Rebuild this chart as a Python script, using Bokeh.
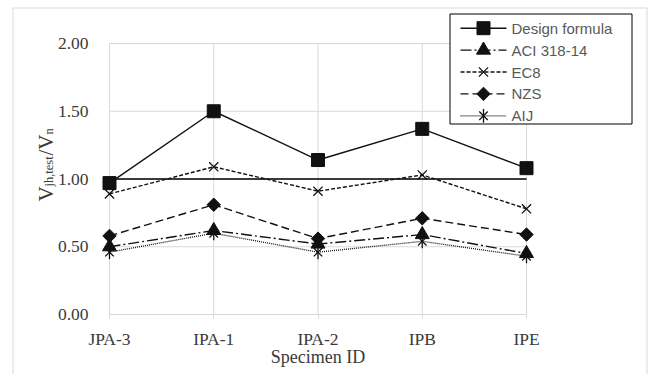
import math
from bokeh.plotting import figure
from bokeh.models import Range1d, FixedTicker, Label, NumeralTickFormatter
from bokeh.core.properties import value
from bokeh.embed import file_html
from bokeh.resources import INLINE

# ---------------- data ----------------
categories = ["JPA-3", "IPA-1", "IPA-2", "IPB", "IPE"]
design = [0.97, 1.50, 1.14, 1.37, 1.08]
aci = [0.50, 0.62, 0.52, 0.59, 0.45]
ec8 = [0.89, 1.09, 0.91, 1.03, 0.78]
nzs = [0.58, 0.81, 0.56, 0.71, 0.59]
aij = [0.46, 0.60, 0.46, 0.54, 0.43]
y_ticks = [0.0, 0.5, 1.0, 1.5, 2.0]
reference_level = 1.0
series_names = ["Design formula", "ACI 318-14", "EC8", "NZS", "AIJ"]

# ---------------- layout (pixels) ----------------
W, H = 654, 374
PX_LEFT, PX_RIGHT = 109, 526      # first / last category
PY_BOTTOM, PY_TOP = 314, 43       # y_ticks[0] / y_ticks[-1]
n = len(categories)
x = list(range(n))
sx = (PX_RIGHT - PX_LEFT) / (n - 1)
sy = (PY_BOTTOM - PY_TOP) / (y_ticks[-1] - y_ticks[0])


def dx(px):
    return (px - PX_LEFT) / sx


def dy(py):
    return y_ticks[0] + (PY_BOTTOM - py) / sy


GRID = "#d9d9d9"
TXT = "#3a3a3a"
K = "#111111"

p = figure(frame_width=W, frame_height=H, output_backend="svg", toolbar_location=None,
           x_range=Range1d(dx(0), dx(W)), y_range=Range1d(dy(H), dy(0)),
           min_border=0)
p.outline_line_color = None
p.background_fill_color = "white"
p.border_fill_color = "white"
p.xgrid.visible = False
p.ygrid.visible = False

# chart-area border
p.quad(left=dx(12.5), right=dx(646.5), top=dy(7.5), bottom=dy(H + 10),
       fill_color=None, line_color=GRID, line_width=1, level="underlay")

# gridlines drawn over the plot area only
p.segment(x0=x[0], x1=x[-1], y0=y_ticks, y1=y_ticks, line_color=GRID, line_width=1, level="underlay")
p.segment(x0=x, x1=x, y0=y_ticks[0], y1=y_ticks[-1], line_color=GRID, line_width=1, level="underlay")

# axes fixed at the plot-area edges
p.xaxis.fixed_location = y_ticks[0]
p.yaxis.fixed_location = x[0]
p.xaxis.bounds = (x[0], x[-1])
p.yaxis.bounds = (y_ticks[0], y_ticks[-1])
p.xaxis.ticker = FixedTicker(ticks=x)
p.xaxis.major_label_overrides = {i: c for i, c in enumerate(categories)}
p.yaxis.ticker = FixedTicker(ticks=y_ticks)
p.yaxis.formatter = NumeralTickFormatter(format="0.00")
for ax in (p.xaxis, p.yaxis):
    ax.major_label_text_font = "Liberation Serif"
    ax.major_label_text_font_size = "17.5px"
    ax.major_label_text_color = TXT
    ax.minor_tick_line_color = None
p.xaxis.axis_line_color = GRID
p.xaxis.major_tick_line_color = GRID
p.xaxis.major_tick_out = 4
p.xaxis.major_tick_in = 0
p.xaxis.major_label_standoff = 10
p.xaxis.axis_label = "Specimen ID"
p.xaxis.axis_label_text_font = "Liberation Serif"
p.xaxis.axis_label_text_font_size = "18px"
p.xaxis.axis_label_text_font_style = "normal"
p.xaxis.axis_label_text_color = TXT
p.xaxis.axis_label_standoff = -5
p.yaxis.axis_line_color = None
p.yaxis.major_tick_line_color = None
p.yaxis.major_label_standoff = 15

# reference line at 1.0 across the plot area
p.segment(x0=x[0], x1=x[-1], y0=reference_level, y1=reference_level, line_color="black", line_width=1.4)

# ---------------- series ----------------
series = [
    dict(name=series_names[0], values=design, dash="solid", width=1.4,
         markers=[("square", 13, 0.0, True)]),
    dict(name=series_names[1], values=aci, dash="11 3 2 3", width=1.4,
         markers=[("triangle", 14, 0.0, True)]),
    dict(name=series_names[2], values=ec8, dash="4 2", width=1.4,
         markers=[("x", 13, 0.0, False)]),
    dict(name=series_names[3], values=nzs, dash="8 4", width=1.4,
         markers=[("square", 9.5, math.pi / 4, True)]),
    dict(name=series_names[4], values=aij, dash="1 1", width=1.3,
         markers=[("x", 12, 0.0, False), ("dash", 14, math.pi / 2, False)]),
]


def draw_markers(xs, ys, markers):
    for mk, size, ang, filled in markers:
        p.scatter(xs, ys, marker=mk, size=size, angle=ang,
                  fill_color=K if filled else None, line_color=K,
                  line_width=1.0 if filled else 1.3, level="overlay")


for s in series:
    p.line(x, s["values"], line_color=K, line_width=s["width"], line_dash=s["dash"], level="overlay")
    draw_markers(x, s["values"], s["markers"])

# ---------------- legend ----------------
LEG_L, LEG_R, LEG_T, LEG_B = 449.5, 631.5, 13.5, 123.5
ROW0, ROW_STEP = 27.7, 21.9
G0, G1, GM, TX = 460, 506, 483, 511
p.quad(left=dx(LEG_L), right=dx(LEG_R), top=dy(LEG_T), bottom=dy(LEG_B),
       fill_color="white", line_color="black", line_width=1, level="overlay")
for i, s in enumerate(series):
    ry = dy(ROW0 + i * ROW_STEP)
    p.line([dx(G0), dx(G1)], [ry, ry], line_color=K, line_width=s["width"],
           line_dash=s["dash"], level="overlay")
    draw_markers([dx(GM)], [ry], s["markers"])
    p.text(x=[dx(TX)], y=[ry], text=[s["name"]], text_font=value("Liberation Sans"),
           text_font_size="15px", text_color="#595959", text_baseline="middle",
           text_align="left", level="overlay")

# ---------------- y axis title with subscripts ----------------
lab_common = dict(x_units="screen", y_units="screen", angle=math.pi / 2,
                  text_font="Liberation Serif", text_color=TXT,
                  text_align="left", text_baseline="alphabetic")
p.add_layout(Label(x=45, y=H - 201, text="V", text_font_size="21px", **lab_common))
p.add_layout(Label(x=48, y=H - 186, text="jh,test", text_font_size="12.5px", **lab_common))
p.add_layout(Label(x=45, y=H - 155, text="/V", text_font_size="21px", **lab_common))
p.add_layout(Label(x=48, y=H - 134, text="n", text_font_size="12.5px", **lab_common))

open("out.html", "w").write(file_html(p, INLINE))
